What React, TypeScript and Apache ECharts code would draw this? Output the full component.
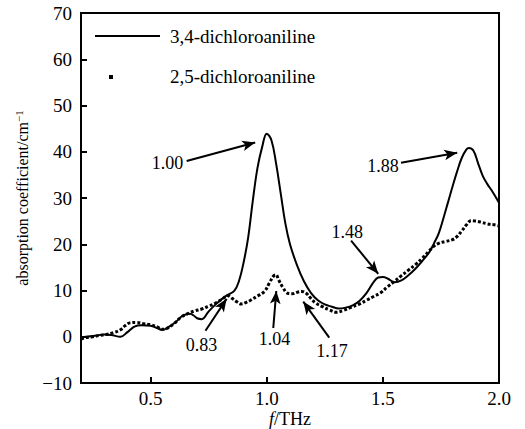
import React, { useEffect, useRef } from "react";
import * as echarts from "echarts";

// 3,4-dichloroaniline (solid line)
const solidFreq = [0.2, 0.22, 0.26, 0.3, 0.33, 0.37, 0.4, 0.43, 0.46, 0.5, 0.53, 0.55, 0.58, 0.61, 0.64, 0.67, 0.7, 0.72, 0.75, 0.78, 0.81, 0.83, 0.86, 0.88, 0.9, 0.92, 0.94, 0.96, 0.98, 1.0, 1.02, 1.04, 1.06, 1.08, 1.1, 1.13, 1.16, 1.19, 1.22, 1.25, 1.28, 1.31, 1.34, 1.37, 1.4, 1.43, 1.46, 1.48, 1.5, 1.52, 1.55, 1.58, 1.61, 1.64, 1.67, 1.7, 1.72, 1.74, 1.76, 1.78, 1.8, 1.82, 1.84, 1.86, 1.87, 1.89, 1.91, 1.93, 1.95, 1.97, 2.0];
const solidValue = [-0.3, 0.0, 0.2, 0.5, 0.4, 0.0, 1.0, 2.2, 2.5, 2.4, 1.8, 1.5, 2.2, 3.3, 4.6, 5.0, 4.0, 3.8, 5.5, 7.0, 8.3, 9.0, 9.9, 12.0, 16.0, 21.5, 29.5, 36.5, 41.0, 43.9, 42.5, 37.5, 31.0, 24.5, 20.0, 15.5, 12.0, 9.5, 7.9, 7.0, 6.5, 6.1, 6.3, 6.8, 7.8, 9.5, 11.8, 12.8, 12.9, 12.6, 11.8, 12.2, 13.3, 14.7, 16.4, 18.3, 20.2, 22.3, 25.5, 29.0, 32.5, 35.8, 38.7, 40.5, 40.8, 40.2, 37.5, 34.8, 33.0, 31.5, 29.0];

// 2,5-dichloroaniline (dotted)
const dottedFreq = [0.2, 0.22, 0.25, 0.28, 0.31, 0.34, 0.37, 0.39, 0.41, 0.44, 0.47, 0.5, 0.53, 0.55, 0.57, 0.6, 0.63, 0.66, 0.69, 0.72, 0.75, 0.78, 0.81, 0.83, 0.85, 0.87, 0.89, 0.91, 0.93, 0.96, 0.99, 1.01, 1.03, 1.04, 1.05, 1.07, 1.09, 1.11, 1.13, 1.15, 1.17, 1.19, 1.21, 1.24, 1.27, 1.3, 1.33, 1.36, 1.4, 1.43, 1.46, 1.49, 1.52, 1.55, 1.58, 1.61, 1.64, 1.67, 1.7, 1.72, 1.74, 1.77, 1.8, 1.82, 1.84, 1.86, 1.88, 1.9, 1.92, 1.95, 1.98, 2.0];
const dottedValue = [-0.5, -0.2, 0.0, 0.3, 0.5, 0.9, 1.5, 2.4, 3.0, 3.1, 2.8, 2.6, 2.1, 1.6, 1.8, 2.8, 4.2, 5.0, 5.6, 6.0, 6.6, 7.3, 8.2, 8.9, 8.3, 7.6, 7.1, 7.4, 7.9, 8.8, 9.8, 11.5, 13.2, 13.4, 12.4, 10.6, 9.4, 9.3, 9.6, 9.8, 9.4, 8.3, 7.3, 6.5, 5.8, 5.3, 5.7, 6.3, 7.1, 7.9, 8.7, 9.5, 10.8, 12.0, 13.2, 14.4, 15.6, 17.0, 18.6, 19.6, 20.2, 20.6, 21.0, 21.7, 22.9, 24.2, 25.1, 25.0, 24.8, 24.4, 24.2, 24.0];

const xTickLabels = [0.5, 1.0, 1.5, 2.0];
const seriesNames = ["3,4-dichloroaniline", "2,5-dichloroaniline"];

// annotations: label text, label position, arrow start, arrow tip (data units)
const annLabels = ["1.00", "1.88", "1.48", "1.17", "1.04", "0.83"];
const annTextPos = [[0.573, 37.8], [1.5, 37.2], [1.346, 22.9], [1.281, -2.8], [1.033, -0.2], [0.719, -1.5]];
const annFrom = [[0.655, 38.0], [1.578, 37.6], [1.363, 20.8], [1.269, -0.2], [1.028, 1.9], [0.736, 1.3]];
const annTo = [[0.95, 42.0], [1.82, 39.8], [1.48, 13.6], [1.157, 7.6], [1.041, 9.9], [0.827, 8.2]];

const FONT = "Liberation Serif";

export default function App() {
  const ref = useRef<HTMLDivElement>(null);
  useEffect(() => {
    if (!ref.current) return;
    const chart = echarts.init(ref.current, undefined, { renderer: "svg" });
    const solidData = solidFreq.map((f, i) => [f, solidValue[i]]);
    const dottedData = dottedFreq.map((f, i) => [f, dottedValue[i]]);
    const markLines = annFrom.map((p, i) => [{ coord: p }, { coord: annTo[i] }]);
    const markPoints = annTextPos.map((p, i) => ({ coord: p, value: annLabels[i] }));

    chart.setOption({
      animation: false,
      textStyle: { fontFamily: FONT },
      grid: {
        left: 81, right: 26, top: 13, bottom: 46,
        containLabel: false, outerBoundsMode: "none",
        show: true, borderColor: "#000", borderWidth: 2, backgroundColor: "transparent",
      },
      xAxis: {
        type: "value",
        min: 0.2,
        max: 2.0,
        name: "{i|f}/THz",
        nameLocation: "middle",
        nameGap: 26,
        nameMoveOverlap: false,
        nameTextStyle: {
          color: "#000",
          fontFamily: FONT,
          fontSize: 18,
          lineHeight: 20,
          rich: { i: { fontStyle: "italic", fontFamily: FONT, fontSize: 18, lineHeight: 20, color: "#000" } },
        },
        axisLine: { show: true, onZero: false, lineStyle: { color: "#000", width: 2 } },
        axisTick: { show: true, inside: true, length: 6, customValues: [0.5, 1.0, 1.5], lineStyle: { color: "#000", width: 2 } },
        axisLabel: { customValues: xTickLabels, formatter: (v: number) => v.toFixed(1), color: "#000", fontFamily: FONT, fontSize: 19, margin: 6 },
        splitLine: { show: false },
      },
      yAxis: {
        type: "value",
        min: -10,
        max: 70,
        interval: 10,
        name: "absorption coefficient/cm{sup|−1}",
        nameLocation: "middle",
        nameGap: 49,
        nameMoveOverlap: false,
        nameTextStyle: {
          color: "#000",
          fontFamily: FONT,
          fontSize: 16,
          rich: { sup: { fontSize: 11, fontFamily: FONT, color: "#000", verticalAlign: "top", padding: [0, 0, 8, 0] } },
        },
        axisLine: { show: true, onZero: false, lineStyle: { color: "#000", width: 2 } },
        axisTick: { show: true, inside: true, length: 6, lineStyle: { color: "#000", width: 2 } },
        axisLabel: { formatter: (v: number) => String(v).replace("-", "\u2212"), color: "#000", fontFamily: FONT, fontSize: 19, margin: 9 },
        splitLine: { show: false },
      },
      series: [
        {
          name: seriesNames[0],
          type: "line",
          data: solidData,
          smooth: 0.4,
          showSymbol: false,
          symbol: "none",
          lineStyle: { color: "#000", width: 2 },
          silent: true,
          markLine: {
            silent: true,
            symbol: ["none", "arrow"],
            symbolSize: [8, 13],
            label: { show: false },
            lineStyle: { type: "solid", color: "#000", width: 2 },
            data: markLines,
          },
          markPoint: {
            silent: true,
            symbol: "circle",
            symbolSize: 0,
            label: {
              show: true,
              position: "inside",
              offset: [0, 1],
              formatter: (p: any) => p.value,
              color: "#000",
              fontFamily: FONT,
              fontSize: 18,
            },
            data: markPoints,
          },
        },
        {
          name: seriesNames[1],
          type: "line",
          data: dottedData,
          smooth: 0.4,
          showSymbol: false,
          symbol: "none",
          silent: true,
          lineStyle: { color: "#000", width: 3, type: [3, 2], cap: "butt" },
        },
      ],
      graphic: [
        { type: "line", shape: { x1: 95, y1: 36, x2: 160, y2: 36 }, style: { stroke: "#000", lineWidth: 2 } },
        { type: "text", x: 170, y: 36, style: { text: seriesNames[0], fill: "#000", fontFamily: FONT, fontSize: 19, verticalAlign: "middle" } },
        { type: "rect", shape: { x: 109, y: 75, width: 4, height: 4 }, style: { fill: "#000" } },
        { type: "text", x: 170, y: 76, style: { text: seriesNames[1], fill: "#000", fontFamily: FONT, fontSize: 19, verticalAlign: "middle" } },
      ],
    });
    return () => chart.dispose();
  }, []);
  return <div ref={ref} style={{ width: 525, height: 429, position: "absolute", left: 0, top: 0, background: "#fff" }} />;
}
